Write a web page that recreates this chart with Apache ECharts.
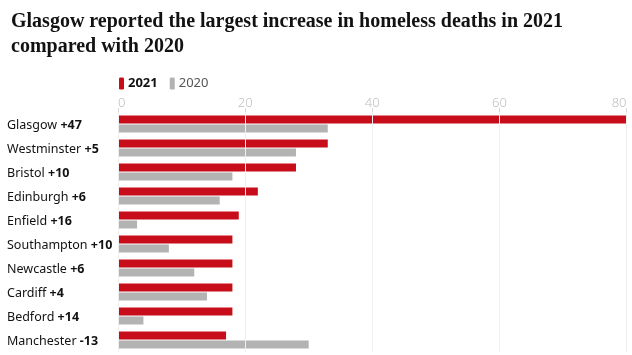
<!DOCTYPE html>
<html><head><meta charset="utf-8">
<script src="https://cdn.jsdelivr.net/npm/echarts@6/dist/echarts.min.js"></script>
<style>html,body{margin:0;padding:0;background:#fff}#c{width:632px;height:355px}</style>
</head><body><div id="c"></div>
<script>
const cities = ['Glasgow','Westminster','Bristol','Edinburgh','Enfield','Southampton','Newcastle','Cardiff','Bedford','Manchester'];
const changes = ['+47','+5','+10','+6','+16','+10','+6','+4','+14','-13'];
const deaths2021 = [80,33,28,22,19,18,18,18,18,17];
const deaths2020 = [33,28,18,16,3,8,12,14,4,30];
const xTicks = [0,20,40,60,80];

const chart = echarts.init(document.getElementById('c'));
const sans = '"Noto Sans", sans-serif';
chart.setOption({
  animation:false,
  title:{
    text:'Glasgow reported the largest increase in homeless deaths in 2021\ncompared with 2020',
    left:6, top:4,
    textStyle:{fontFamily:'"Liberation Serif", serif', fontWeight:'bold', fontSize:20, lineHeight:25, color:'#121212'}
  },
  legend:{
    left:114, top:72, itemWidth:5, itemHeight:12, itemGap:12, icon:'roundRect',
    data:['2021','2020'],
    formatter: n => n==='2021' ? '{b|2021}' : '{n|2020}',
    textStyle:{fontFamily:sans, fontSize:13, padding:[0,0,0,-1],
      rich:{b:{fontWeight:'bold',color:'#121212',fontSize:13,fontFamily:sans},n:{color:'#555',fontSize:13,fontFamily:sans}}}
  },
  grid:{left:118, right:5.5, top:112, height:240, containLabel:false},
  xAxis:{
    type:'value', position:'top', min:xTicks[0], max:xTicks[xTicks.length-1], interval:20, z:10,
    axisLine:{show:false},
    axisTick:{show:true, length:4, lineStyle:{color:'#d6d6d6'}},
    splitLine:{show:true, lineStyle:{color:'#efefef', width:1}},
    axisLabel:{color:'#bdbdbd', fontFamily:sans, fontSize:13, fontWeight:300, margin:2, alignMinLabel:'left', alignMaxLabel:'right'}
  },
  yAxis:{
    type:'category', inverse:true, data:cities,
    axisLine:{show:false}, axisTick:{show:false},
    axisLabel:{
      align:'left', margin:111, fontFamily:sans, fontSize:12.5, color:'#121212', padding:[3,0,0,0],
      formatter:(v,i)=>'{n|'+v+'} {b|'+changes[i]+'}',
      rich:{n:{fontFamily:sans,fontSize:12.5,color:'#121212'},b:{fontFamily:sans,fontSize:12.5,fontWeight:'bold',color:'#121212'}}
    }
  },
  series:[
    {name:'2021', type:'bar', data:deaths2021, barWidth:8, barGap:'12.5%', itemStyle:{color:'#c70d19'}},
    {name:'2020', type:'bar', data:deaths2020, barWidth:8, barGap:'12.5%', itemStyle:{color:'#b3b3b3'}}
  ]
});
</script></body></html>
